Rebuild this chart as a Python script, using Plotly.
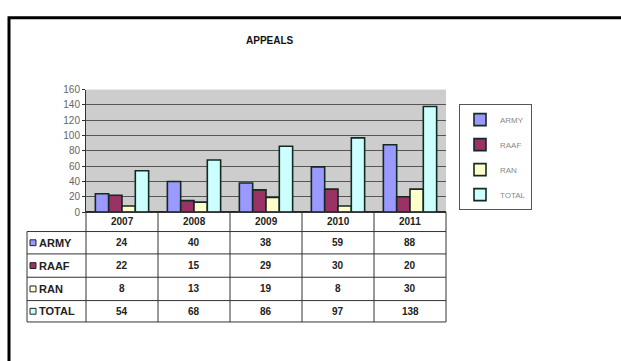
import plotly.graph_objects as go

years = ["2007", "2008", "2009", "2010", "2011"]
series_names = ["ARMY", "RAAF", "RAN", "TOTAL"]
army = [24, 40, 38, 59, 88]
raaf = [22, 15, 29, 30, 20]
ran = [8, 13, 19, 8, 30]
total = [54, 68, 86, 97, 138]
y_ticks = [0, 20, 40, 60, 80, 100, 120, 140, 160]

values = [army, raaf, ran, total]
colors = ["#9999ff", "#993366", "#ffffcc", "#ccffff"]

W, H = 621, 361
def px(x):
    return x / W
def py(y):
    return 1 - y / H

# layout geometry (pixels)
plot_l, plot_r, plot_t, plot_b = 86, 446, 87, 213
row_edges = [213, 233, 256, 280, 304, 326]
label_l = 27
col_w = (plot_r - plot_l) / len(years)

fig = go.Figure()
for name, vals, c in zip(series_names, values, colors):
    fig.add_trace(go.Bar(
        x=years, y=vals, name=name, legendgroup=name,
        marker=dict(color=c, line=dict(color="#142a20", width=1.6)),
    ))

shapes = []
annotations = []

# outer frame
shapes.append(dict(type="rect", xref="paper", yref="paper",
                   x0=px(9), x1=1.05, y0=-0.05, y1=py(13),
                   line=dict(color="black", width=3), fillcolor="rgba(0,0,0,0)", layer="above"))

# table horizontal lines
for i, ye in enumerate(row_edges):
    x0 = plot_l if i == 0 else label_l
    shapes.append(dict(type="line", xref="paper", yref="paper",
                       x0=px(x0), x1=px(plot_r), y0=py(ye), y1=py(ye),
                       line=dict(color="#333", width=1)))
# vertical lines
shapes.append(dict(type="line", xref="paper", yref="paper",
                   x0=px(label_l), x1=px(label_l), y0=py(row_edges[1]), y1=py(row_edges[-1]),
                   line=dict(color="#333", width=1)))
for k in range(len(years) + 1):
    xk = plot_l + k * col_w
    shapes.append(dict(type="line", xref="paper", yref="paper",
                       x0=px(xk), x1=px(xk), y0=py(row_edges[0]), y1=py(row_edges[-1]),
                       line=dict(color="#333", width=1)))

font_b = dict(family="Arial, Liberation Sans", size=10, color="#222")
# header years (x given as category index)
for i, yr in enumerate(years):
    annotations.append(dict(x=i, xref="x", yref="paper", yanchor="middle",
                            y=py((row_edges[0] + row_edges[1]) / 2),
                            text="<b>%s</b>" % yr, showarrow=False, font=font_b))
# rows
for r, (name, vals, c) in enumerate(zip(series_names, values, colors)):
    yc = (row_edges[r + 1] + row_edges[r + 2]) / 2
    shapes.append(dict(type="rect", xref="paper", yref="paper",
                       x0=px(30), x1=px(36), y0=py(yc + 3), y1=py(yc - 3),
                       fillcolor=c, line=dict(color="#222", width=1)))
    annotations.append(dict(x=px(37), xref="paper", yref="paper", y=py(yc),
                            xanchor="left", yanchor="middle",
                            text="<b>%s</b>" % name, showarrow=False,
                            font=dict(family="Arial, Liberation Sans", size=11, color="#222")))
    for i, v in enumerate(vals):
        annotations.append(dict(x=i, xref="x", yref="paper", y=py(yc), yanchor="middle",
                                text="<b>%d</b>" % v, showarrow=False, font=font_b))

# title
annotations.append(dict(x=px(270), y=py(37), xref="paper", yref="paper", yanchor="middle",
                        text="<b>APPEALS</b>", showarrow=False,
                        font=dict(family="Arial, Liberation Sans", size=10, color="#111")))

fig.update_layout(
    width=W, height=H,
    margin=dict(l=0, r=0, t=0, b=0),
    paper_bgcolor="white",
    plot_bgcolor="#cdcdcd",
    barmode="group", bargap=0.26, bargroupgap=0,
    showlegend=True,
    legend=dict(x=px(459), y=py(102), xanchor="left", yanchor="top",
                bordercolor="#555", borderwidth=1, bgcolor="white",
                font=dict(family="Arial, Liberation Sans", size=8, color="#888"),
                tracegroupgap=6, itemwidth=30),
    xaxis=dict(type="category", categoryorder="array", categoryarray=years,
               range=[-0.5, len(years) - 0.5], autorange=False,
               domain=[px(plot_l), px(plot_r)], showticklabels=False,
               showline=True, linecolor="#333", ticks=""),
    yaxis=dict(domain=[py(plot_b), py(plot_t)], range=[0, 160], tickvals=y_ticks,
               showgrid=True, gridcolor="#555", gridwidth=1,
               showline=True, linecolor="#333", ticks="outside", ticklen=3, tickcolor="#333",
               zeroline=True, zerolinecolor="#222",
               tickfont=dict(family="Arial, Liberation Sans", size=10, color="#666")),
    shapes=shapes, annotations=annotations,
)

fig.write_html("out.html")
